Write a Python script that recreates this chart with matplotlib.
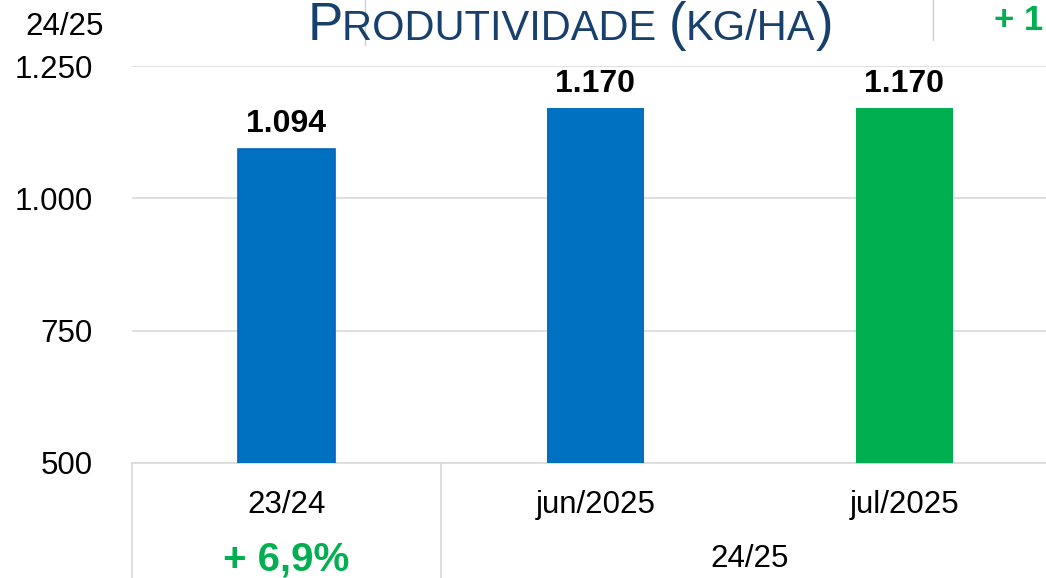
import matplotlib
matplotlib.use('Agg')
import matplotlib.pyplot as plt
from matplotlib.offsetbox import TextArea, HPacker, AnnotationBbox
from matplotlib.transforms import blended_transform_factory

plt.rcParams['font.family'] = ['Liberation Sans', 'DejaVu Sans']

# data
categories = ['23/24', 'jun/2025', 'jul/2025']
productivity = [1094, 1170, 1170]
bar_colors = ['#0070C0', '#0070C0', '#00B050']
group_label = '24/25'
yticks = [500, 750, 1000, 1250]
change_vs_prev = '+ 6,9%'
change_top = '+ 1'

W, H = 1046, 578


def px(x, y):
    # pixel position (from top-left) -> figure fraction
    return x / W, 1 - y / H


def fmt(v):
    return f'{v:,}'.replace(',', '.')


def main():
    fig = plt.figure(figsize=(W / 100, H / 100), dpi=100)
    ax = fig.add_axes([132 / W, 1 - 463 / H, 927 / W, 397 / H])

    x = range(len(categories))
    bars = ax.bar(x, productivity, width=0.315, color=bar_colors, zorder=3)
    bars[0].set_edgecolor('#0563C1')
    bars[0].set_linewidth(1.2)

    for b, v in zip(bars, productivity):
        ax.annotate(fmt(v), (b.get_x() + b.get_width() / 2, v),
                    xytext=(0, 12), textcoords='offset points',
                    ha='center', va='baseline', fontsize=23, fontweight='bold')

    ax.set_xlim(-0.5, 2.5)
    ax.set_ylim(500, 1250)
    ax.set_yticks(yticks, [fmt(t) for t in yticks])
    ax.tick_params(axis='y', length=0, pad=28, labelsize=22.5)
    ax.set_xticks([])
    ax.grid(axis='y', color='#D9D9D9', linewidth=1.2, zorder=0)
    for s in ['left', 'right', 'top']:
        ax.spines[s].set_visible(False)
    ax.spines['bottom'].set_color('#D9D9D9')
    ax.spines['bottom'].set_linewidth(1.2)

    # category table below the axis
    tr = blended_transform_factory(ax.transData, ax.transAxes)
    for i, c in enumerate(categories):
        ax.text(i, -0.126, c, transform=tr, ha='center', va='baseline',
                fontsize=22.5, clip_on=False)
    ax.text(1.5, -0.262, group_label, transform=tr, ha='center',
            va='baseline', fontsize=22.5, clip_on=False)
    ax.text(0, -0.272, change_vs_prev, transform=tr, ha='center',
            va='baseline', fontsize=29, fontweight='bold', color='#00B050',
            clip_on=False)
    for xv in [-0.5, 0.5]:
        ax.plot([xv, xv], [0, -0.4], transform=tr, color='#D9D9D9',
                linewidth=1.2, clip_on=False)

    # header
    fig.text(*px(65, 35), group_label, ha='center', va='baseline',
             fontsize=22.5)
    for lx, ly in [(933, 40), (365, 45)]:
        fig.add_artist(plt.Line2D([lx / W, lx / W], [1, 1 - ly / H],
                                  color='#D0D0D0', linewidth=1.0))
    fig.text(*px(994, 30), change_top, ha='left', va='baseline',
             fontsize=25, fontweight='bold', color='#00B050')

    title_color = '#17406D'
    big, small = 38, 30
    parts = [('P', big), ('RODUTIVIDADE ', small), ('(', big),
             ('KG/HA', small), (')', big)]
    areas = [TextArea(t, textprops=dict(fontsize=s, color=title_color))
             for t, s in parts]
    pack = HPacker(children=areas, align='baseline', pad=0, sep=0)
    ab = AnnotationBbox(pack, px(570, 51), xycoords='figure fraction',
                        box_alignment=(0.5, 0), frameon=False, pad=0)
    fig.add_artist(ab)

    fig.savefig('out.png', dpi=100)


if __name__ == '__main__':
    main()
